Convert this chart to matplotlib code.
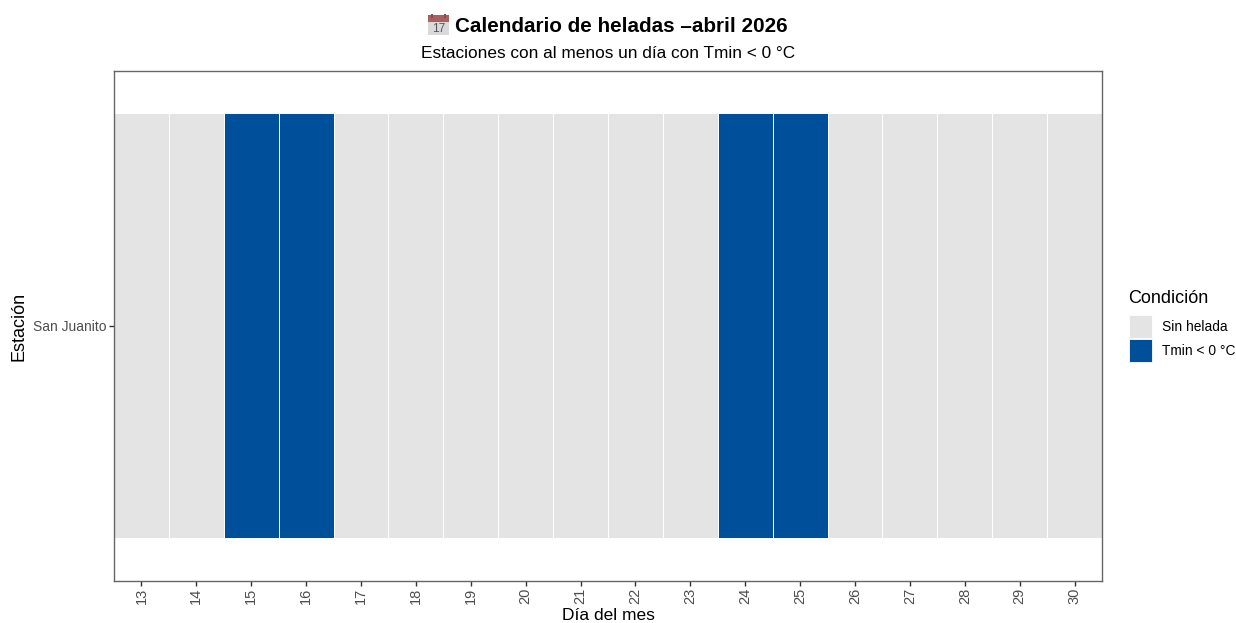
import matplotlib
matplotlib.use('Agg')
import matplotlib.pyplot as plt
from matplotlib.patches import Patch, Rectangle

plt.rcParams['font.family'] = ['Liberation Sans', 'DejaVu Sans']

dias = [13, 14, 15, 16, 17, 18, 19, 20, 21, 22, 23, 24, 25, 26, 27, 28, 29, 30]
helada = [0, 0, 1, 1, 0, 0, 0, 0, 0, 0, 0, 1, 1, 0, 0, 0, 0, 0]
estaciones = ['San Juanito']
condiciones = ['Sin helada', 'Tmin < 0 °C']
colores = ['#E4E4E4', '#004F9B']

W, H = 1236, 623
fig = plt.figure(figsize=(W / 100, H / 100), dpi=100)
ax = fig.add_axes([114 / W, 1 - 580.5 / H, (1102 - 114) / W, (580.5 - 70.5) / H])

tile_colors = [colores[h] for h in helada]
ax.bar(dias, [1] * len(dias), bottom=0.5, width=1, color=tile_colors,
       edgecolor='white', linewidth=0.7, zorder=2)

ax.set_xlim(12.5, 30.5)
ax.set_ylim(0.4, 1.6)
ax.set_xticks(dias)
ax.set_xticklabels(dias, rotation=90, color='#4D4D4D', fontsize=10.5)
ax.set_yticks([1])
ax.set_yticklabels(estaciones, color='#4D4D4D', fontsize=10)
ax.tick_params(axis='x', length=3.6, width=1, color='#333333', pad=1.5)
ax.tick_params(axis='y', length=3.6, width=1, color='#333333', pad=2)
for s in ax.spines.values():
    s.set_color('#666666')
    s.set_linewidth(1)

fig.text(608 / W, 1 - 616 / H, 'Día del mes', ha='center', va='center', fontsize=12.5)
fig.text(19 / W, 1 - 326 / H, 'Estación', rotation=90, ha='center', va='center', fontsize=13)

# titulo y subtitulo
fig.text(455 / W, 1 - 27 / H, 'Calendario de heladas –abril 2026', ha='left', va='center',
         fontsize=14.9, fontweight='bold', color='black')
fig.text(608.5 / W, 1 - 54 / H, 'Estaciones con al menos un día con Tmin < 0 °C', ha='center', va='center',
         fontsize=12.4, color='black')

# icono de calendario
def icon_rect(x0, y0, x1, y1, color):
    fig.add_artist(Rectangle((x0 / W, 1 - y1 / H), (x1 - x0) / W, (y1 - y0) / H,
                             transform=fig.transFigure, facecolor=color, edgecolor='none'))

icon_rect(428, 15, 449, 35, '#D9D9D9')
icon_rect(428, 15, 449, 22, '#A85F5F')
icon_rect(431, 14, 433, 18, '#8C4A4A')
icon_rect(444, 14, 446, 18, '#8C4A4A')
fig.text(438.5 / W, 1 - 29 / H, '17', ha='center', va='center', fontsize=8.5, color='#555555')

# leyenda
fig.text(1128.5 / W, 1 - 298.5 / H, 'Condición', ha='left', va='center', fontsize=13)
handles = [Patch(facecolor=c, edgecolor='white', linewidth=0.6) for c in colores]
leg = fig.legend(handles, condiciones, loc='upper left', bbox_to_anchor=(1129 / W, 1 - 315 / H),
                 fontsize=9.9, frameon=False,
                 handlelength=1.65, handleheight=2.16, labelspacing=0.1, handletextpad=0.75,
                 borderaxespad=0, borderpad=0)

fig.savefig('out.png', dpi=100)
